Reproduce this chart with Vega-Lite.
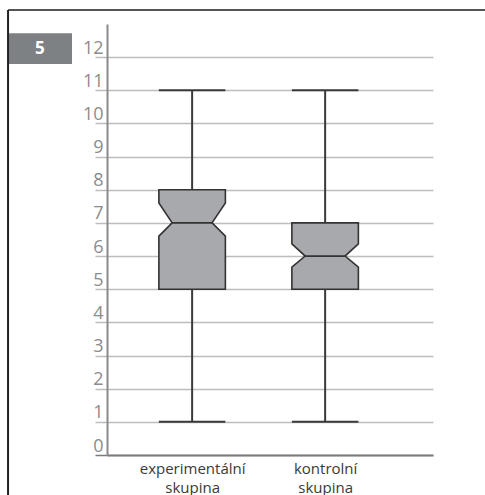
{
  "$schema": "https://vega.github.io/schema/vega-lite/v6.json",
  "width": 326,
  "height": 431,
  "autosize": "none",
  "padding": {"left": 107, "top": 24, "right": 52, "bottom": 40},
  "background": "white",
  "config": {"view": {"stroke": null}, "font": "Open Sans"},
  "datasets": {
    "shape": [
      {"g": "experimentální", "v": 5, "xl": 0.75, "xr": 1.25},
      {"g": "experimentální", "v": 6.6, "xl": 0.75, "xr": 1.25},
      {"g": "experimentální", "v": 7, "xl": 0.85, "xr": 1.15},
      {"g": "experimentální", "v": 7.6, "xl": 0.75, "xr": 1.25},
      {"g": "experimentální", "v": 8, "xl": 0.75, "xr": 1.25},
      {"g": "kontrolní", "v": 5, "xl": 1.75, "xr": 2.25},
      {"g": "kontrolní", "v": 5.67, "xl": 1.75, "xr": 2.25},
      {"g": "kontrolní", "v": 6, "xl": 1.85, "xr": 2.15},
      {"g": "kontrolní", "v": 6.37, "xl": 1.75, "xr": 2.25},
      {"g": "kontrolní", "v": 7, "xl": 1.75, "xr": 2.25}
    ],
    "stats": [
      {"g": "experimentální", "c": 1, "lo": 1, "q1": 5, "med": 7, "q3": 8, "hi": 11, "capL": 0.75, "capR": 1.25, "nL": 0.85, "nR": 1.15},
      {"g": "kontrolní", "c": 2, "lo": 1, "q1": 5, "med": 6, "q3": 7, "hi": 11, "capL": 1.75, "capR": 2.25, "nL": 1.85, "nR": 2.15}
    ],
    "badge": [{"label": "5"}]
  },
  "layer": [
    {
      "data": {"name": "stats"},
      "mark": {"type": "rule", "stroke": "#3a3a3a", "strokeWidth": 2},
      "encoding": {
        "x": {"field": "c", "type": "quantitative", "scale": {"domain": [0.36, 2.811], "nice": false, "zero": false},
          "axis": {"values": [1, 2], "title": null, "grid": false, "ticks": false, "domain": true, "domainColor": "#7a7a7a", "domainWidth": 2,
            "labelExpr": "datum.value == 1 ? ['experimentální', 'skupina'] : ['kontrolní', 'skupina']",
            "labelFontSize": 15, "labelColor": "#3a3a3a", "labelPadding": 6, "labelLineHeight": 19, "labelFont": "Open Sans", "labelOverlap": false}},
        "y": {"field": "q3", "type": "quantitative", "scale": {"domain": [0, 13], "nice": false, "zero": true},
          "axis": {"values": [0,1,2,3,4,5,6,7,8,9,10,11,12], "title": null, "grid": true, "gridColor": "#bdbdbd", "gridWidth": 1.5,
            "tickSize": 12, "tickWidth": 1.5, "tickColor": {"condition": {"test": "datum.value == 0", "value": "#7a7a7a"}, "value": "#bdbdbd"},
            "domainColor": "#8a8a8a", "domainWidth": 2, "labelFontSize": 18, "labelColor": "#8c8c8c", "labelPadding": -8,
            "labelBaseline": "alphabetic", "labelOffset": -4, "labelFont": "Open Sans", "labelOverlap": false}},
        "y2": {"field": "hi"}
      }
    },
    {
      "data": {"name": "stats"},
      "mark": {"type": "rule", "stroke": "#3a3a3a", "strokeWidth": 2},
      "encoding": {
        "x": {"field": "c", "type": "quantitative", "axis": {"values": [1, 2]}},
        "y": {"field": "lo", "type": "quantitative", "axis": {"values": [0,1,2,3,4,5,6,7,8,9,10,11,12]}},
        "y2": {"field": "q1"}
      }
    },
    {
      "data": {"name": "stats"},
      "mark": {"type": "rule", "stroke": "#3a3a3a", "strokeWidth": 2},
      "encoding": {
        "x": {"field": "capL", "type": "quantitative", "axis": {"values": [1, 2]}},
        "x2": {"field": "capR"},
        "y": {"field": "hi", "type": "quantitative", "axis": {"values": [0,1,2,3,4,5,6,7,8,9,10,11,12]}}
      }
    },
    {
      "data": {"name": "stats"},
      "mark": {"type": "rule", "stroke": "#3a3a3a", "strokeWidth": 2},
      "encoding": {
        "x": {"field": "capL", "type": "quantitative", "axis": {"values": [1, 2]}},
        "x2": {"field": "capR"},
        "y": {"field": "lo", "type": "quantitative", "axis": {"values": [0,1,2,3,4,5,6,7,8,9,10,11,12]}}
      }
    },
    {
      "data": {"name": "shape"},
      "mark": {"type": "area", "orient": "horizontal", "fill": "#a8a9ac", "fillOpacity": 1, "stroke": "#333333", "strokeWidth": 1.6},
      "encoding": {
        "y": {"field": "v", "type": "quantitative", "axis": {"values": [0,1,2,3,4,5,6,7,8,9,10,11,12]}},
        "x": {"field": "xl", "type": "quantitative", "axis": {"values": [1, 2]}},
        "x2": {"field": "xr"},
        "detail": {"field": "g"}
      }
    },
    {
      "data": {"name": "stats"},
      "mark": {"type": "rule", "stroke": "#333333", "strokeWidth": 1.6},
      "encoding": {
        "x": {"field": "nL", "type": "quantitative", "axis": {"values": [1, 2]}},
        "x2": {"field": "nR"},
        "y": {"field": "med", "type": "quantitative", "axis": {"values": [0,1,2,3,4,5,6,7,8,9,10,11,12]}}
      }
    },
    {
      "data": {"name": "badge"},
      "mark": {"type": "rect", "fill": "#7e8184"},
      "encoding": {
        "x": {"datum": -0.384, "type": "quantitative", "axis": {"values": [1, 2]}},
        "x2": {"datum": 0.097},
        "y": {"datum": 12.72, "type": "quantitative", "axis": {"values": [0,1,2,3,4,5,6,7,8,9,10,11,12]}},
        "y2": {"datum": 11.79}
      }
    },
    {
      "data": {"name": "badge"},
      "mark": {"type": "text", "fill": "white", "fontWeight": "bold", "fontSize": 17, "font": "Open Sans", "align": "center", "baseline": "middle"},
      "encoding": {
        "x": {"datum": -0.144, "type": "quantitative", "axis": {"values": [1, 2]}},
        "y": {"datum": 12.26, "type": "quantitative", "axis": {"values": [0,1,2,3,4,5,6,7,8,9,10,11,12]}},
        "text": {"field": "label"}
      }
    },
    {
      "data": {"name": "badge"},
      "mark": {"type": "rule", "stroke": "#555555", "strokeWidth": 2},
      "encoding": {
        "x": {"datum": -0.384, "type": "quantitative", "axis": {"values": [1, 2]}},
        "x2": {"datum": 3.21},
        "y": {"datum": 13.42, "type": "quantitative", "axis": {"values": [0,1,2,3,4,5,6,7,8,9,10,11,12]}}
      }
    },
    {
      "data": {"name": "badge"},
      "mark": {"type": "rule", "stroke": "#222222", "strokeWidth": 2},
      "encoding": {
        "x": {"datum": -0.384, "type": "quantitative", "axis": {"values": [1, 2]}},
        "y": {"datum": 13.42, "type": "quantitative", "axis": {"values": [0,1,2,3,4,5,6,7,8,9,10,11,12]}},
        "y2": {"datum": -1.3}
      }
    }
  ]
}
